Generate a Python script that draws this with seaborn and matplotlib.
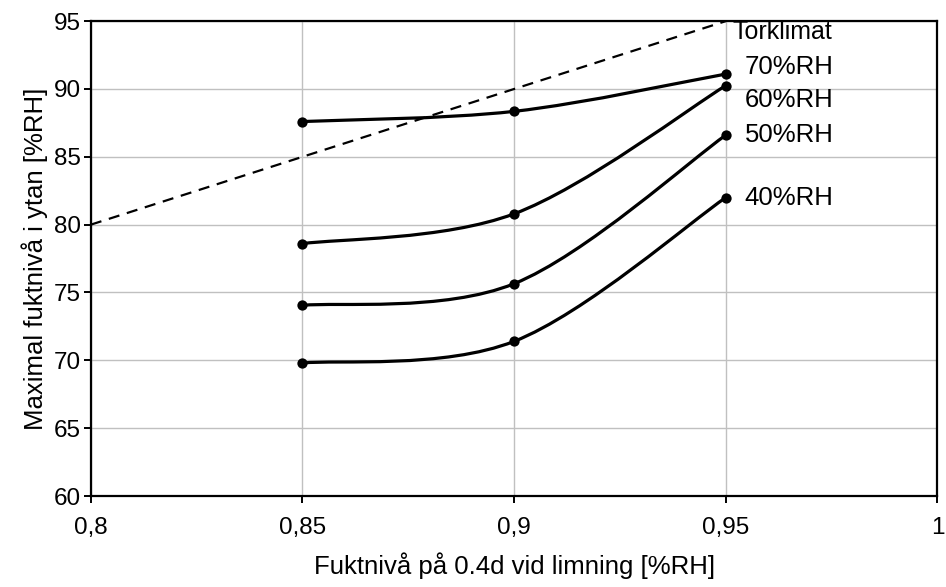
import numpy as np
import pandas as pd
import matplotlib
matplotlib.use('Agg')
import matplotlib.pyplot as plt
from matplotlib.path import Path
from matplotlib.patches import PathPatch
import seaborn as sns

### Data
fukt_limning = [0.85, 0.90, 0.95]
rh70 = [87.6, 88.35, 91.1]
rh60 = [78.6, 80.8, 90.25]
rh50 = [74.05, 75.65, 86.6]
rh40 = [69.8, 71.4, 82.0]
series_names = ['70%RH', '60%RH', '50%RH', '40%RH']
ref_x = [0.80, 0.85, 0.95]
ref_y = [80.0, 85.0, 95.0]

x_ticks = [0.8, 0.85, 0.9, 0.95, 1.0]
x_ticklabels = ['0,8', '0,85', '0,9', '0,95', '1']
y_ticks = [60, 65, 70, 75, 80, 85, 90, 95]

df = pd.DataFrame({
    'x': fukt_limning * 4,
    'y': rh70 + rh60 + rh50 + rh40,
    'klimat': sum([[n] * 3 for n in series_names], []),
})


def smooth_path(xs, ys):
    # excel style smoothed line: bezier segments through the points
    pts = np.column_stack([xs, ys])
    n = len(pts)
    verts = [pts[0]]
    codes = [Path.MOVETO]
    for i in range(n - 1):
        p0 = pts[max(i - 1, 0)]
        p1 = pts[i]
        p2 = pts[i + 1]
        p3 = pts[min(i + 2, n - 1)]
        c1 = p1 + (p2 - p0) / 6
        c2 = p2 - (p3 - p1) / 6
        verts += [c1, c2, p2]
        codes += [Path.CURVE4] * 3
    return Path(verts, codes)


sns.set_theme(style='white')
plt.rcParams['font.family'] = ['Liberation Sans', 'DejaVu Sans']
plt.rcParams['text.color'] = 'black'
plt.rcParams['axes.labelcolor'] = 'black'
plt.rcParams['xtick.color'] = 'black'
plt.rcParams['ytick.color'] = 'black'

fig, ax = plt.subplots(figsize=(9.46, 5.87), dpi=100)
fig.subplots_adjust(left=0.096, right=0.991, top=0.964, bottom=0.155)

for name, g in df.groupby('klimat', sort=False):
    ax.add_patch(PathPatch(smooth_path(g['x'].values, g['y'].values),
                           fill=False, lw=2.3, color='black', zorder=3))

sns.scatterplot(data=df, x='x', y='y', color='black', s=55,
                edgecolor='black', linewidth=0, legend=False, ax=ax, zorder=4)

sns.lineplot(x=ref_x, y=ref_y, color='black', lw=1.6, ax=ax,
             estimator=None, zorder=2).lines[-1].set_dashes([5, 3.5])

ax.set_xlim(0.8, 1.0)
ax.set_ylim(60, 95)
ax.set_xticks(x_ticks)
ax.set_xticklabels(x_ticklabels)
ax.set_yticks(y_ticks)
ax.grid(True, color='#c0c0c0', lw=1.0)
ax.set_axisbelow(True)
for sp in ax.spines.values():
    sp.set_color('black')
    sp.set_linewidth(1.6)
ax.tick_params(axis='both', which='major', labelsize=17.5, length=5, width=1.4,
               direction='out', left=True, bottom=True, pad=2)
ax.tick_params(axis='x', pad=10)

ax.set_xlabel('Fuktnivå på 0.4d vid limning [%RH]', fontsize=18.5, labelpad=10)
ax.set_ylabel('Maximal fuktnivå i ytan [%RH]', fontsize=18.5, labelpad=4)

# labels to the right of the curves
ax.text(0.9515, 94.2, 'Torklimat', fontsize=18, va='center', ha='left')
label_y = [91.6, 89.2, 86.6, 82.0]
for name, ly in zip(series_names, label_y):
    ax.text(0.9545, ly, name, fontsize=18.5, va='center', ha='left')

fig.savefig('out.png', dpi=100)
